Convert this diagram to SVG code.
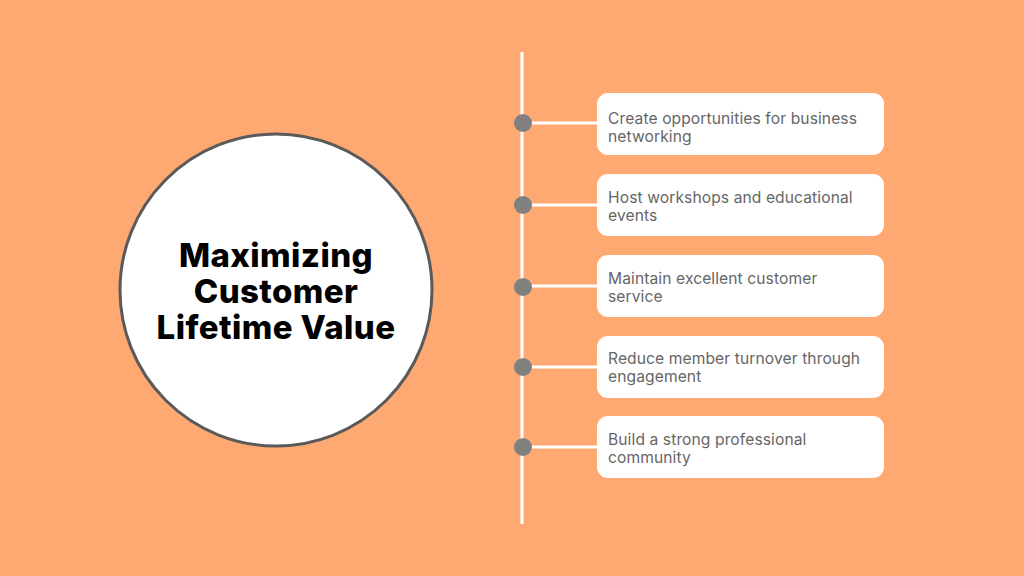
<svg xmlns="http://www.w3.org/2000/svg" width="1024" height="576" viewBox="0 0 1024 576">
<style>
.box{fill:#ffffff}
.dot{fill:#808080}
.conn{stroke:#ffffff;stroke-width:3}
.lbl{font-family:"Inter","Liberation Sans",sans-serif;font-size:15.6px;letter-spacing:0.1px;fill:#666666}
.title{font-family:"Inter","Liberation Sans",sans-serif;font-size:33px;letter-spacing:0.4px;font-weight:800;fill:#000000;text-anchor:middle}
</style>
<rect width="1024" height="576" fill="#fea872"/>
<g id="hub">
<circle cx="276" cy="290" r="156" fill="#ffffff" stroke="#5a5a5a" stroke-width="3"/>
<text class="title"><tspan x="276" y="267">Maximizing</tspan><tspan x="276" y="303">Customer</tspan><tspan x="276" y="339">Lifetime Value</tspan></text>
</g>
<g id="connectors">
<line class="conn" x1="522" y1="52" x2="522" y2="524"/>
<line class="conn" x1="522" y1="123" x2="598" y2="123"/>
<line class="conn" x1="522" y1="205" x2="598" y2="205"/>
<line class="conn" x1="522" y1="286" x2="598" y2="286"/>
<line class="conn" x1="522" y1="367" x2="598" y2="367"/>
<line class="conn" x1="522" y1="447" x2="598" y2="447"/>
<circle class="dot" cx="523" cy="123" r="9"/>
<circle class="dot" cx="523" cy="205" r="9"/>
<circle class="dot" cx="523" cy="287" r="9"/>
<circle class="dot" cx="523" cy="367" r="9"/>
<circle class="dot" cx="523" cy="447" r="9"/>
</g>
<g id="item1">
<rect class="box" x="597" y="93" width="287" height="62" rx="11"/>
<text class="lbl"><tspan x="608" y="124">Create opportunities for business</tspan><tspan x="608" y="142">networking</tspan></text>
</g>
<g id="item2">
<rect class="box" x="597" y="174" width="287" height="62" rx="11"/>
<text class="lbl"><tspan x="608" y="203">Host workshops and educational</tspan><tspan x="608" y="221">events</tspan></text>
</g>
<g id="item3">
<rect class="box" x="597" y="255" width="287" height="62" rx="11"/>
<text class="lbl"><tspan x="608" y="284">Maintain excellent customer</tspan><tspan x="608" y="302">service</tspan></text>
</g>
<g id="item4">
<rect class="box" x="597" y="336" width="287" height="62" rx="11"/>
<text class="lbl"><tspan x="608" y="364">Reduce member turnover through</tspan><tspan x="608" y="382">engagement</tspan></text>
</g>
<g id="item5">
<rect class="box" x="597" y="416" width="287" height="62" rx="11"/>
<text class="lbl"><tspan x="608" y="445">Build a strong professional</tspan><tspan x="608" y="463">community</tspan></text>
</g>
</svg>
